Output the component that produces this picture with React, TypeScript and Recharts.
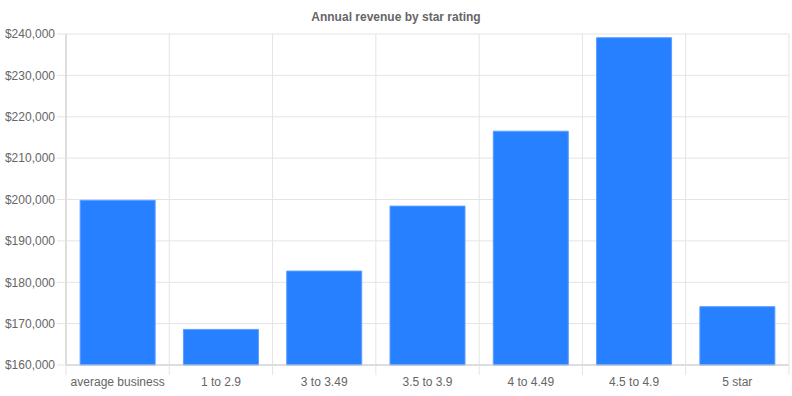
import React from 'react'
import { BarChart, Bar, XAxis, YAxis, CartesianGrid } from 'recharts'

const categories = ['average business', '1 to 2.9', '3 to 3.49', '3.5 to 3.9', '4 to 4.49', '4.5 to 4.9', '5 star']
const revenue = [199800, 168600, 182700, 198400, 216500, 239100, 174100]
const yTicks = [160000, 170000, 180000, 190000, 200000, 210000, 220000, 230000, 240000]

const data = categories.map((name, i) => ({ name, revenue: revenue[i] }))

const gridColor = '#e4e4e4'
const axisColor = '#c9c9c9'
const textColor = '#666'
const font = '"Liberation Sans", Arial, sans-serif'

const fmt = (v: number) => `$${v.toLocaleString('en-US')}`

// labels at band centres, tick marks at band edges (like chart.js offset grid)
function XTick(props: any) {
  const { x, y, payload, index, visibleTicksCount } = props
  const half = payload.offset || 0
  const axisY = y - 12
  return (
    <g>
      <line x1={x - half} x2={x - half} y1={axisY} y2={axisY + 10} stroke={gridColor} />
      {index === visibleTicksCount - 1 && (
        <line x1={x + half} x2={x + half} y1={axisY} y2={axisY + 10} stroke={gridColor} />
      )}
      <text x={x} y={y} dy="0.71em" textAnchor="middle" fill={textColor} fontSize={12} fontFamily={font}>
        {payload.value}
      </text>
    </g>
  )
}

export default function App() {
  return (
    <div style={{ position: 'fixed', left: 0, top: 0, width: 792, height: 396, background: '#fff' }}>
      <div
        style={{
          position: 'absolute',
          top: 10,
          width: 792,
          textAlign: 'center',
          fontFamily: font,
          fontSize: 12,
          fontWeight: 'bold',
          color: textColor,
        }}
      >
        Annual revenue by star rating
      </div>
      <BarChart
        width={792}
        height={396}
        data={data}
        margin={{ top: 34, right: 3, left: 0, bottom: 0 }}
        barCategoryGap="13.7%"
      >
        <CartesianGrid
          stroke={gridColor}
          verticalCoordinatesGenerator={({ offset }: any) =>
            categories.map((_, i) => offset.left + (i * offset.width) / categories.length).concat(offset.left + offset.width)
          }
        />
        <XAxis
          dataKey="name"
          height={31}
          interval={0}
          tickLine={false}
          tickSize={6}
          tickMargin={6}
          axisLine={{ stroke: axisColor }}
          tick={<XTick />}
        />
        <YAxis
          width={66}
          domain={[160000, 240000]}
          ticks={yTicks}
          tickFormatter={fmt}
          tickSize={9}
          tickMargin={2}
          tickLine={{ stroke: gridColor }}
          axisLine={{ stroke: axisColor }}
          tick={{ fill: textColor, fontSize: 12, fontFamily: font }}
        />
        <Bar dataKey="revenue" fill="#2680ff" stroke="#5a9dff" strokeWidth={1} isAnimationActive={false} />
      </BarChart>
    </div>
  )
}
